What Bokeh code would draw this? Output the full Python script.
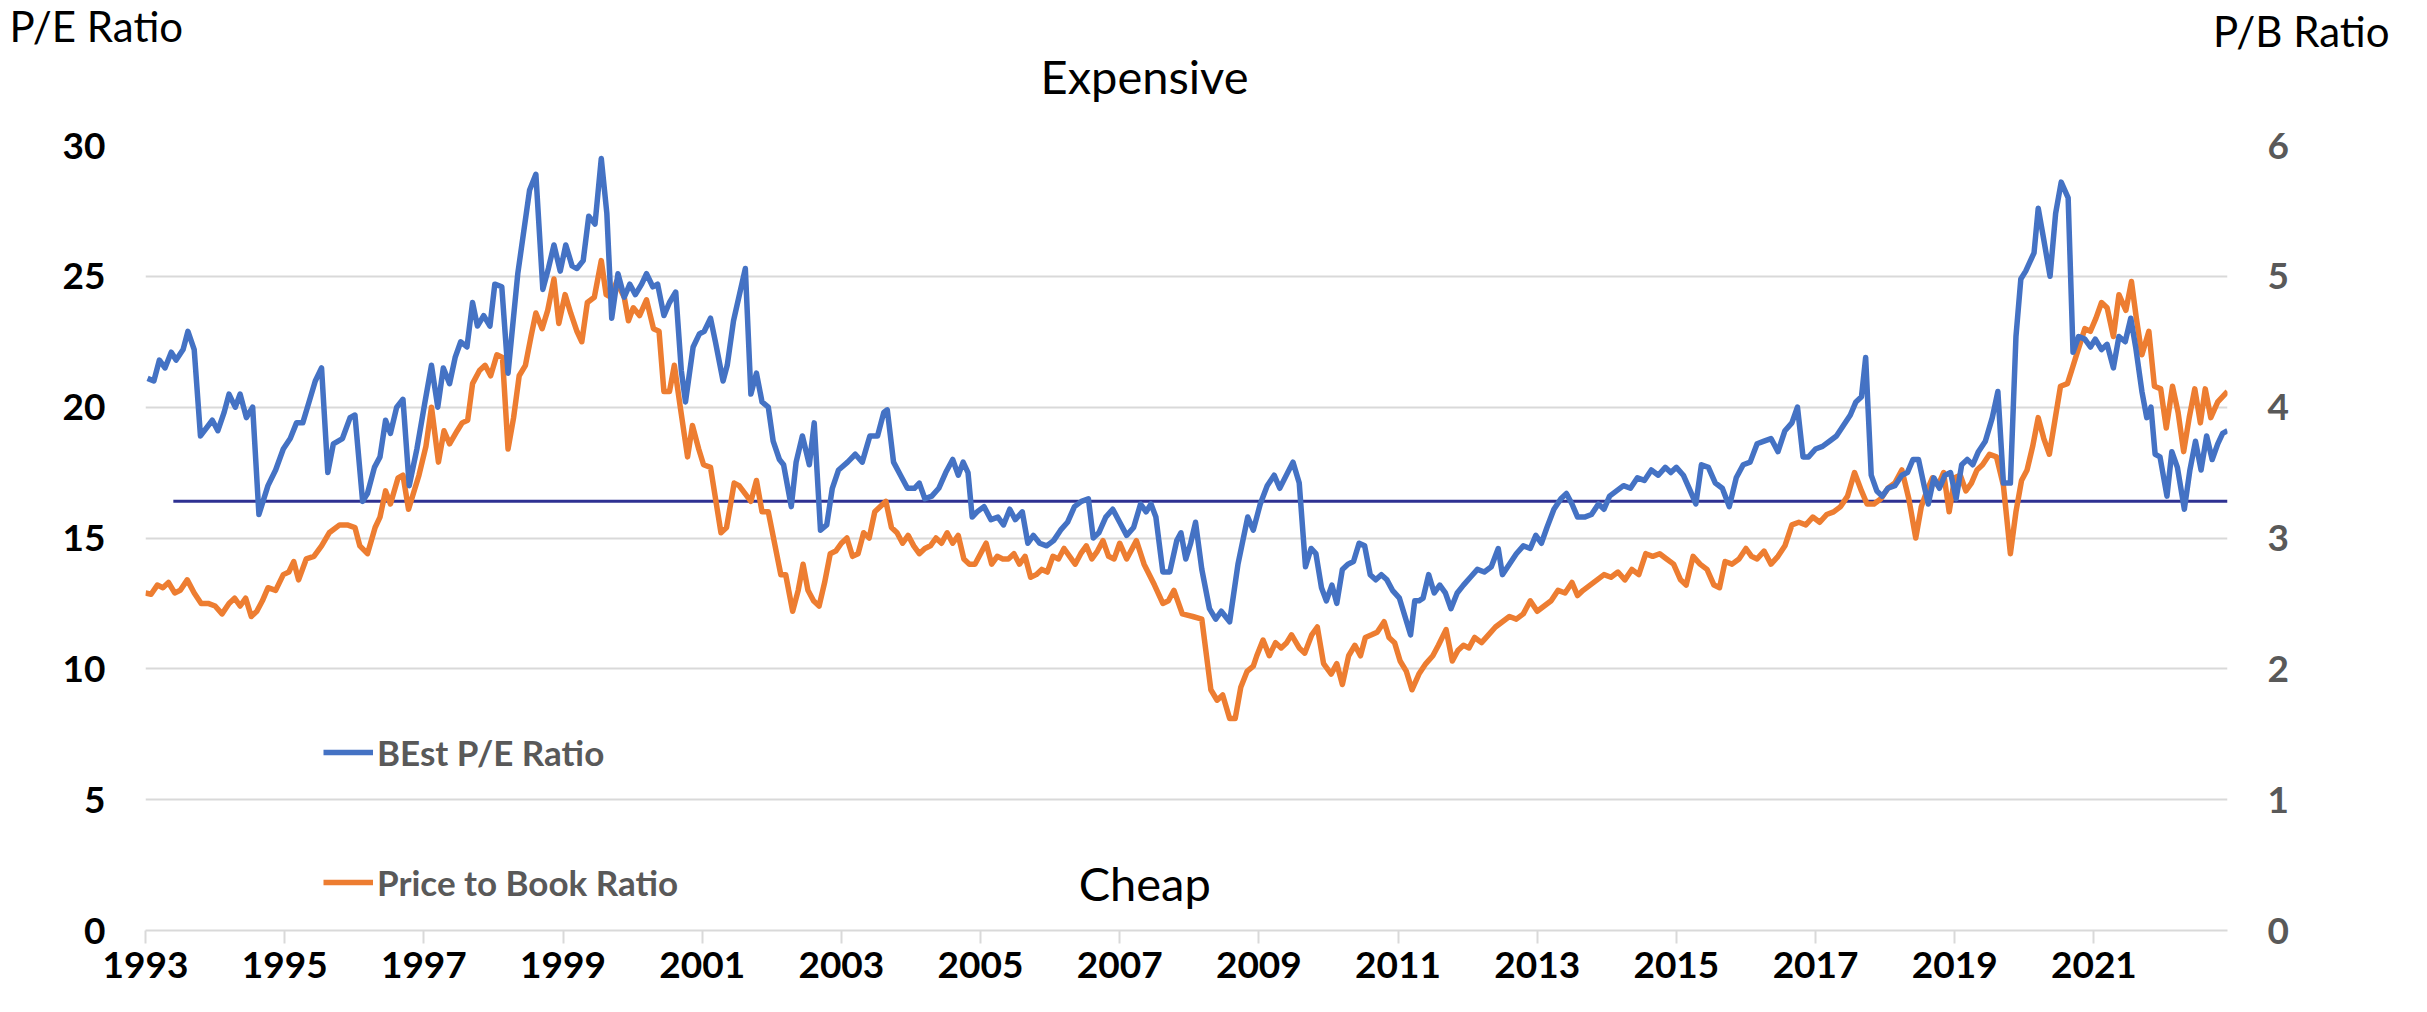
from bokeh.plotting import figure
from bokeh.layouts import column
from bokeh.models import (Range1d, LinearAxis, FixedTicker, NumeralTickFormatter,
                          Legend, LegendItem, Label, ColumnDataSource, Plot)
from bokeh.embed import file_html
from bokeh.resources import INLINE

# ---------------- data ----------------
pe_dates = [1993.03, 1993.12, 1993.2, 1993.28, 1993.37, 1993.44, 1993.54, 1993.61, 1993.7, 1993.79,
            1993.96, 1994.04, 1994.13, 1994.2, 1994.29, 1994.36, 1994.45, 1994.54, 1994.63, 1994.76,
            1994.87, 1994.98, 1995.08, 1995.17, 1995.26, 1995.35, 1995.44, 1995.53, 1995.62, 1995.7,
            1995.83, 1995.94, 1996.01, 1996.12, 1996.19, 1996.29, 1996.37, 1996.45, 1996.52, 1996.61,
            1996.7, 1996.79, 1996.9, 1997.01, 1997.11, 1997.2, 1997.28, 1997.37, 1997.45, 1997.53,
            1997.62, 1997.7, 1997.77, 1997.86, 1997.95, 1998.02, 1998.12, 1998.21, 1998.35, 1998.52,
            1998.61, 1998.71, 1998.79, 1998.87, 1998.96, 1999.04, 1999.13, 1999.2, 1999.29, 1999.37,
            1999.46, 1999.55, 1999.63, 1999.7, 1999.79, 1999.88, 1999.96, 2000.04, 2000.13, 2000.2,
            2000.29, 2000.36, 2000.45, 2000.53, 2000.62, 2000.7, 2000.76, 2000.87, 2000.96, 2001.03,
            2001.12, 2001.19, 2001.3, 2001.36, 2001.45, 2001.62, 2001.7, 2001.78, 2001.86, 2001.95,
            2002.02, 2002.11, 2002.17, 2002.28, 2002.35, 2002.44, 2002.54, 2002.61, 2002.7, 2002.79,
            2002.87, 2002.96, 2003.09, 2003.2, 2003.3, 2003.41, 2003.52, 2003.61, 2003.66,
            2003.75, 2003.85, 2003.95, 2004.05, 2004.12, 2004.2, 2004.3, 2004.4, 2004.5, 2004.6,
            2004.68, 2004.75, 2004.82, 2004.88, 2004.95, 2005.05, 2005.15, 2005.25, 2005.33, 2005.42,
            2005.5, 2005.6, 2005.68, 2005.76, 2005.85, 2005.95, 2006.05, 2006.15, 2006.25, 2006.35,
            2006.45, 2006.55, 2006.62, 2006.7, 2006.8, 2006.9, 2007.0, 2007.1, 2007.2, 2007.3,
            2007.38, 2007.45, 2007.52, 2007.62, 2007.72, 2007.82, 2007.88, 2007.95, 2008.02, 2008.09,
            2008.18, 2008.29, 2008.38, 2008.46, 2008.58, 2008.7, 2008.84, 2008.92, 2009.02, 2009.12,
            2009.22, 2009.3, 2009.49, 2009.58, 2009.67, 2009.75, 2009.82, 2009.9, 2009.97, 2010.05,
            2010.12, 2010.2, 2010.28, 2010.36, 2010.44, 2010.52, 2010.6, 2010.68, 2010.76, 2010.84,
            2010.92, 2011.02, 2011.18, 2011.24, 2011.3, 2011.36, 2011.44, 2011.52, 2011.6, 2011.68,
            2011.76, 2011.85, 2011.94, 2012.04, 2012.14, 2012.24, 2012.34, 2012.44, 2012.5, 2012.6,
            2012.7, 2012.8, 2012.9, 2012.98, 2013.06, 2013.14, 2013.24, 2013.34, 2013.42, 2013.5,
            2013.58, 2013.68, 2013.78, 2013.88, 2013.96, 2014.04, 2014.14, 2014.24, 2014.34, 2014.44,
            2014.54, 2014.64, 2014.74, 2014.84, 2014.92, 2015.0, 2015.1, 2015.2, 2015.28, 2015.36,
            2015.46, 2015.56, 2015.66, 2015.76, 2015.86, 2015.96, 2016.06, 2016.16, 2016.26, 2016.36,
            2016.46, 2016.56, 2016.66, 2016.74, 2016.82, 2016.9, 2017.0, 2017.1, 2017.2, 2017.3,
            2017.4, 2017.5, 2017.58, 2017.66, 2017.72, 2017.8, 2017.88, 2017.96, 2018.04, 2018.14,
            2018.24, 2018.32, 2018.4, 2018.48, 2018.56, 2018.62, 2018.7, 2018.78, 2018.86, 2018.94,
            2019.02, 2019.1, 2019.18, 2019.26, 2019.34, 2019.44, 2019.54, 2019.62, 2019.7, 2019.8,
            2019.88, 2019.95, 2020.02, 2020.14, 2020.2, 2020.28, 2020.37, 2020.45, 2020.53, 2020.63,
            2020.7, 2020.78, 2020.87, 2020.95, 2021.02, 2021.11, 2021.19, 2021.28, 2021.36, 2021.45,
            2021.53, 2021.6, 2021.69, 2021.76, 2021.82, 2021.88, 2021.95, 2022.05, 2022.12, 2022.2,
            2022.3, 2022.38, 2022.46, 2022.54, 2022.62, 2022.7, 2022.78, 2022.85, 2022.92]
pe_values = [21.1, 21.0, 21.8, 21.5, 22.1, 21.8, 22.2, 22.9, 22.2, 18.9,
             19.5, 19.1, 19.8, 20.5, 20.0, 20.5, 19.6, 20.0, 15.9, 17.0,
             17.6, 18.4, 18.8, 19.4, 19.4, 20.2, 21.0, 21.5, 17.5, 18.6,
             18.8, 19.6, 19.7, 16.4, 16.7, 17.7, 18.1, 19.5, 19.0, 20.0,
             20.3, 17.0, 18.4, 20.1, 21.6, 20.0, 21.5, 20.9, 21.9, 22.5,
             22.3, 24.0, 23.1, 23.5, 23.1, 24.7, 24.6, 21.3, 25.1, 28.3,
             28.9, 24.5, 25.3, 26.2, 25.2, 26.2, 25.4, 25.3, 25.6, 27.3,
             27.0, 29.5, 27.4, 23.4, 25.1, 24.2, 24.7, 24.3, 24.7, 25.1,
             24.6, 24.7, 23.5, 24.0, 24.4, 21.4, 20.2, 22.3, 22.8, 22.9,
             23.4, 22.5, 21.0, 21.6, 23.3, 25.3, 20.5, 21.3, 20.2, 20.0,
             18.7, 18.0, 17.8, 16.2, 17.9, 18.9, 17.8, 19.4, 15.3, 15.5,
             16.9, 17.6, 17.9, 18.2, 17.9, 18.9, 18.9, 19.8, 19.9,
             17.9, 17.4, 16.9, 16.9, 17.1, 16.5, 16.6, 16.9, 17.5, 18.0,
             17.4, 17.9, 17.5, 15.8, 16.0, 16.2, 15.7, 15.8, 15.5, 16.1,
             15.7, 16.0, 14.8, 15.1, 14.8, 14.7, 14.9, 15.3, 15.6, 16.2,
             16.4, 16.5, 15.0, 15.2, 15.8, 16.1, 15.6, 15.1, 15.4, 16.3,
             16.0, 16.3, 15.8, 13.7, 13.7, 14.9, 15.2, 14.2, 14.8, 15.6,
             13.8, 12.3, 11.9, 12.2, 11.8, 14.0, 15.8, 15.3, 16.3, 17.0,
             17.4, 16.9, 17.9, 17.1, 13.9, 14.6, 14.4, 13.1, 12.6, 13.2,
             12.5, 13.8, 14.0, 14.1, 14.8, 14.7, 13.6, 13.4, 13.6, 13.4,
             13.0, 12.7, 11.3, 12.6, 12.6, 12.7, 13.6, 12.9, 13.2, 12.9,
             12.3, 12.9, 13.2, 13.5, 13.8, 13.7, 13.9, 14.6, 13.6, 14.0,
             14.4, 14.7, 14.6, 15.1, 14.8, 15.4, 16.1, 16.5, 16.7, 16.3,
             15.8, 15.8, 15.9, 16.3, 16.1, 16.6, 16.8, 17.0, 16.9, 17.3,
             17.2, 17.6, 17.4, 17.7, 17.5, 17.7, 17.4, 16.8, 16.3, 17.8,
             17.7, 17.1, 16.9, 16.2, 17.3, 17.8, 17.9, 18.6, 18.7, 18.8,
             18.3, 19.1, 19.4, 20.0, 18.1, 18.1, 18.4, 18.5, 18.7, 18.9,
             19.3, 19.7, 20.2, 20.4, 21.9, 17.4, 16.8, 16.6, 16.9, 17.0,
             17.4, 17.5, 18.0, 18.0, 17.0, 16.3, 17.3, 16.9, 17.4, 17.5,
             16.5, 17.8, 18.0, 17.8, 18.3, 18.7, 19.6, 20.6, 17.1, 17.1,
             22.7, 24.9, 25.2, 25.9, 27.6, 26.4, 25.0, 27.4, 28.6, 28.0,
             22.1, 22.7, 22.6, 22.3, 22.6, 22.2, 22.4, 21.5, 22.7, 22.5,
             23.4, 22.3, 20.6, 19.6, 20.0, 18.2, 18.1, 16.6, 18.3, 17.7,
             16.1, 17.6, 18.7, 17.6, 18.9, 18.0, 18.6, 19.0, 19.1]

pb_dates = [1993.0, 1993.08, 1993.17, 1993.25, 1993.33, 1993.42, 1993.5, 1993.6, 1993.7, 1993.8,
            1993.9, 1994.0, 1994.1, 1994.2, 1994.28, 1994.36, 1994.44, 1994.52, 1994.6, 1994.68,
            1994.76, 1994.87, 1994.98, 1995.06, 1995.13, 1995.2, 1995.31, 1995.42, 1995.53, 1995.64,
            1995.79, 1995.9, 1996.01, 1996.08, 1996.19, 1996.3, 1996.37, 1996.45, 1996.52, 1996.63,
            1996.7, 1996.78, 1996.93, 1997.03, 1997.11, 1997.21, 1997.29, 1997.37, 1997.48, 1997.55,
            1997.63, 1997.7, 1997.8, 1997.88, 1997.96, 1998.05, 1998.13, 1998.21, 1998.29, 1998.37,
            1998.46, 1998.54, 1998.61, 1998.7, 1998.78, 1998.87, 1998.94, 1999.03, 1999.11, 1999.2,
            1999.27, 1999.35, 1999.45, 1999.55, 1999.62, 1999.69, 1999.77, 1999.88, 1999.94, 2000.01,
            2000.1, 2000.2, 2000.3, 2000.38, 2000.45, 2000.53, 2000.6, 2000.68, 2000.79, 2000.86,
            2000.95, 2001.02, 2001.12, 2001.27, 2001.35, 2001.46, 2001.53, 2001.7, 2001.78, 2001.86,
            2001.95, 2002.13, 2002.2, 2002.3, 2002.38, 2002.45, 2002.52, 2002.6, 2002.68, 2002.76,
            2002.84, 2002.92, 2003.0, 2003.08, 2003.16, 2003.24, 2003.32, 2003.4, 2003.48, 2003.56,
            2003.64, 2003.72, 2003.8, 2003.88, 2003.96, 2004.04, 2004.12, 2004.2, 2004.28, 2004.36,
            2004.44, 2004.52, 2004.6, 2004.68, 2004.76, 2004.84, 2004.92, 2005.0, 2005.08, 2005.16,
            2005.24, 2005.32, 2005.4, 2005.48, 2005.56, 2005.64, 2005.72, 2005.8, 2005.88, 2005.96,
            2006.04, 2006.12, 2006.2, 2006.28, 2006.36, 2006.44, 2006.52, 2006.6, 2006.68, 2006.76,
            2006.84, 2006.92, 2007.0, 2007.1, 2007.24, 2007.35, 2007.5, 2007.62, 2007.7, 2007.78,
            2007.9, 2008.05, 2008.18, 2008.31, 2008.4, 2008.48, 2008.58, 2008.66, 2008.74, 2008.83,
            2008.92, 2008.97, 2009.06, 2009.15, 2009.24, 2009.32, 2009.4, 2009.47, 2009.58, 2009.66,
            2009.76, 2009.84, 2009.93, 2010.04, 2010.12, 2010.2, 2010.29, 2010.38, 2010.46, 2010.53,
            2010.62, 2010.7, 2010.8, 2010.87, 2010.95, 2011.03, 2011.12, 2011.2, 2011.3, 2011.4,
            2011.5, 2011.58, 2011.69, 2011.78, 2011.86, 2011.94, 2012.02, 2012.1, 2012.2, 2012.3,
            2012.4, 2012.5, 2012.6, 2012.7, 2012.8, 2012.9, 2013.0, 2013.1, 2013.2, 2013.3,
            2013.4, 2013.5, 2013.58, 2013.66, 2013.76, 2013.86, 2013.96, 2014.06, 2014.16, 2014.26,
            2014.36, 2014.46, 2014.56, 2014.66, 2014.76, 2014.86, 2014.96, 2015.06, 2015.14, 2015.24,
            2015.34, 2015.44, 2015.54, 2015.62, 2015.7, 2015.8, 2015.9, 2016.0, 2016.08, 2016.16,
            2016.26, 2016.36, 2016.46, 2016.56, 2016.66, 2016.76, 2016.86, 2016.96, 2017.06, 2017.16,
            2017.26, 2017.36, 2017.46, 2017.56, 2017.66, 2017.74, 2017.84, 2017.94, 2018.04, 2018.14,
            2018.24, 2018.34, 2018.44, 2018.52, 2018.6, 2018.68, 2018.76, 2018.84, 2018.92, 2019.0,
            2019.08, 2019.16, 2019.24, 2019.32, 2019.4, 2019.5, 2019.6, 2019.7, 2019.8, 2019.88,
            2019.96, 2020.04, 2020.12, 2020.2, 2020.28, 2020.36, 2020.44, 2020.52, 2020.62, 2020.68,
            2020.75, 2020.87, 2020.95, 2021.03, 2021.11, 2021.19, 2021.28, 2021.36, 2021.46, 2021.54,
            2021.61, 2021.69, 2021.79, 2021.87, 2021.96, 2022.04, 2022.13, 2022.21, 2022.29, 2022.37,
            2022.45, 2022.53, 2022.6, 2022.68, 2022.78, 2022.92]
pb_values = [2.58, 2.57, 2.64, 2.62, 2.66, 2.58, 2.60, 2.68, 2.58, 2.50,
             2.50, 2.48, 2.42, 2.50, 2.54, 2.48, 2.54, 2.40, 2.44, 2.52,
             2.62, 2.60, 2.72, 2.74, 2.82, 2.68, 2.84, 2.86, 2.94, 3.04,
             3.10, 3.10, 3.08, 2.94, 2.88, 3.08, 3.16, 3.36, 3.26, 3.46,
             3.48, 3.22, 3.48, 3.70, 4.00, 3.58, 3.82, 3.72, 3.82, 3.88,
             3.90, 4.18, 4.28, 4.32, 4.24, 4.40, 4.38, 3.68, 3.92, 4.24,
             4.32, 4.54, 4.72, 4.60, 4.74, 4.98, 4.64, 4.86, 4.72, 4.58,
             4.50, 4.80, 4.84, 5.12, 4.86, 4.84, 4.96, 4.84, 4.66, 4.76,
             4.70, 4.82, 4.60, 4.58, 4.12, 4.12, 4.32, 4.02, 3.62, 3.86,
             3.68, 3.56, 3.54, 3.04, 3.08, 3.42, 3.40, 3.28, 3.44, 3.20,
             3.20, 2.72, 2.72, 2.44, 2.60, 2.80, 2.60, 2.52, 2.48, 2.66,
             2.88, 2.90, 2.96, 3.00, 2.86, 2.88, 3.04, 3.00, 3.20, 3.24,
             3.28, 3.08, 3.04, 2.96, 3.02, 2.94, 2.88, 2.92, 2.94, 3.00,
             2.96, 3.04, 2.96, 3.02, 2.84, 2.80, 2.80, 2.88, 2.96, 2.80,
             2.86, 2.84, 2.84, 2.88, 2.80, 2.86, 2.70, 2.72, 2.76, 2.74,
             2.86, 2.84, 2.92, 2.86, 2.80, 2.88, 2.94, 2.84, 2.90, 2.98,
             2.86, 2.84, 2.96, 2.84, 2.98, 2.80, 2.64, 2.50, 2.52, 2.60,
             2.42, 2.40, 2.38, 1.84, 1.76, 1.80, 1.62, 1.62, 1.86, 1.98,
             2.02, 2.10, 2.22, 2.10, 2.20, 2.16, 2.20, 2.26, 2.16, 2.12,
             2.26, 2.32, 2.04, 1.96, 2.04, 1.88, 2.10, 2.18, 2.10, 2.24,
             2.26, 2.28, 2.36, 2.24, 2.20, 2.06, 1.98, 1.84, 1.96, 2.04,
             2.10, 2.18, 2.30, 2.06, 2.14, 2.18, 2.16, 2.24, 2.20, 2.26,
             2.32, 2.36, 2.40, 2.38, 2.42, 2.52, 2.44, 2.48, 2.52, 2.60,
             2.58, 2.66, 2.56, 2.60, 2.64, 2.68, 2.72, 2.70, 2.74, 2.68,
             2.76, 2.72, 2.88, 2.86, 2.88, 2.84, 2.80, 2.68, 2.64, 2.86,
             2.80, 2.76, 2.64, 2.62, 2.82, 2.80, 2.84, 2.92, 2.86, 2.84,
             2.90, 2.80, 2.86, 2.94, 3.10, 3.12, 3.10, 3.16, 3.12, 3.18,
             3.20, 3.24, 3.32, 3.50, 3.36, 3.26, 3.26, 3.30, 3.38, 3.42,
             3.52, 3.30, 3.00, 3.24, 3.36, 3.46, 3.40, 3.50, 3.20, 3.46,
             3.48, 3.36, 3.42, 3.52, 3.56, 3.64, 3.62, 3.40, 2.88, 3.20,
             3.44, 3.52, 3.70, 3.92, 3.76, 3.64, 3.90, 4.16, 4.18, 4.28,
             4.40, 4.60, 4.58, 4.68, 4.80, 4.76, 4.54, 4.86, 4.74, 4.96,
             4.68, 4.40, 4.58, 4.16, 4.14, 3.84, 4.16, 3.96, 3.66, 3.92,
             4.14, 3.88, 4.14, 3.92, 4.04, 4.12]

avg_dates = [1993.4, 2022.92]
avg_values = [16.4, 16.4]

pe_ticks = [0, 5, 10, 15, 20, 25, 30]
pb_ticks = [0, 1, 2, 3, 4, 5, 6]
year_ticks = [1993, 1995, 1997, 1999, 2001, 2003, 2005, 2007, 2009, 2011, 2013, 2015, 2017, 2019, 2021]

# ---------------- styling ----------------
BLUE = "#4472C4"
ORANGE = "#ED7D31"
NAVY = "#2E3192"
GRID = "#D9D9D9"
GREY_TXT = "#595959"
FONT = "Lato"

W = 2411
HEAD_H = 110
MAIN_H = 886
CAN_UNALIGN = "frame_align" in Plot.properties()

# ---------- header strip with the free texts ----------
head = figure(width=W, height=HEAD_H, output_backend="svg", toolbar_location=None,
              x_range=Range1d(0, W), y_range=Range1d(0, HEAD_H),
              x_axis_location=None, y_axis_location=None,
              min_border=0, background_fill_color="white", border_fill_color="white")
head.outline_line_color = None
head.grid.visible = False
if CAN_UNALIGN:
    head.frame_align = False


def head_label(x, y, text, size, align):
    head.add_layout(Label(x=x, y=y, text=text, text_font=FONT, text_font_size=size,
                          text_color="#000000", text_align=align, text_baseline="alphabetic"))


head_label(9, 85, "P/E Ratio", "42px", "left")
head_label(2389, 80, "P/B Ratio", "42px", "right")
head_label(1144, 35, "Expensive", "47px", "center")

# ---------- main chart ----------
p = figure(width=W, height=MAIN_H, output_backend="svg", toolbar_location=None,
           x_range=Range1d(1993.0, 2022.92), y_range=Range1d(0, 30),
           min_border_left=145, min_border_right=184, min_border_top=35, min_border_bottom=66,
           background_fill_color="white", border_fill_color="white")
p.outline_line_color = None
if CAN_UNALIGN:
    p.frame_align = False
p.extra_y_ranges = {"pb": Range1d(0, 6)}

p.xgrid.visible = False
p.ygrid.ticker = FixedTicker(ticks=pe_ticks)
p.ygrid.grid_line_color = GRID
p.ygrid.grid_line_width = 2

xa = p.xaxis[0]
xa.ticker = FixedTicker(ticks=year_ticks)
xa.formatter = NumeralTickFormatter(format="0")
xa.axis_line_color = GRID
xa.axis_line_width = 2
xa.major_tick_line_color = GRID
xa.major_tick_line_width = 2
xa.major_tick_out = 13
xa.major_tick_in = 0
xa.minor_tick_line_color = None
xa.major_label_text_font = FONT
xa.major_label_text_font_style = "bold"
xa.major_label_text_font_size = "37px"
xa.major_label_text_color = "#000000"
xa.major_label_standoff = 8

ya = p.yaxis[0]
ya.ticker = FixedTicker(ticks=pe_ticks)
ya.axis_line_color = None
ya.major_tick_line_color = None
ya.minor_tick_line_color = None
ya.major_tick_out = 0
ya.major_label_standoff = 40
ya.major_label_text_font = FONT
ya.major_label_text_font_style = "bold"
ya.major_label_text_font_size = "37px"
ya.major_label_text_color = "#000000"

ra = LinearAxis(y_range_name="pb", ticker=FixedTicker(ticks=pb_ticks))
ra.axis_line_color = None
ra.major_tick_line_color = None
ra.minor_tick_line_color = None
ra.major_tick_out = 0
ra.major_label_standoff = 40
ra.major_label_text_font = FONT
ra.major_label_text_font_style = "bold"
ra.major_label_text_font_size = "37px"
ra.major_label_text_color = GREY_TXT
p.add_layout(ra, "right")

src_pe = ColumnDataSource(dict(x=pe_dates, y=pe_values))
src_pb = ColumnDataSource(dict(x=pb_dates, y=pb_values))
src_avg = ColumnDataSource(dict(x=avg_dates, y=avg_values))

r_avg = p.line("x", "y", source=src_avg, line_color=NAVY, line_width=3)
r_pb = p.line("x", "y", source=src_pb, y_range_name="pb", line_color=ORANGE,
              line_width=5.5, line_join="round")
r_pe = p.line("x", "y", source=src_pe, line_color=BLUE, line_width=5.5, line_join="round")

legend = Legend(items=[LegendItem(label="BEst P/E Ratio", renderers=[r_pe]),
                       LegendItem(label="Price to Book Ratio", renderers=[r_pb])],
                location=(178, 26), orientation="vertical",
                padding=0, margin=0, spacing=86,
                glyph_width=50, glyph_height=44, label_height=44,
                label_standoff=4,
                label_text_font=FONT, label_text_font_style="bold",
                label_text_font_size="35px", label_text_color=GREY_TXT,
                border_line_color=None, background_fill_alpha=0)
p.add_layout(legend, "center")

p.add_layout(Label(x=2007.36, y=1.81, text="Cheap", text_font=FONT, text_font_size="47px",
                   text_color="#000000", text_align="center", text_baseline="alphabetic"))

open("out.html", "w").write(file_html(column(head, p, spacing=0), INLINE))
